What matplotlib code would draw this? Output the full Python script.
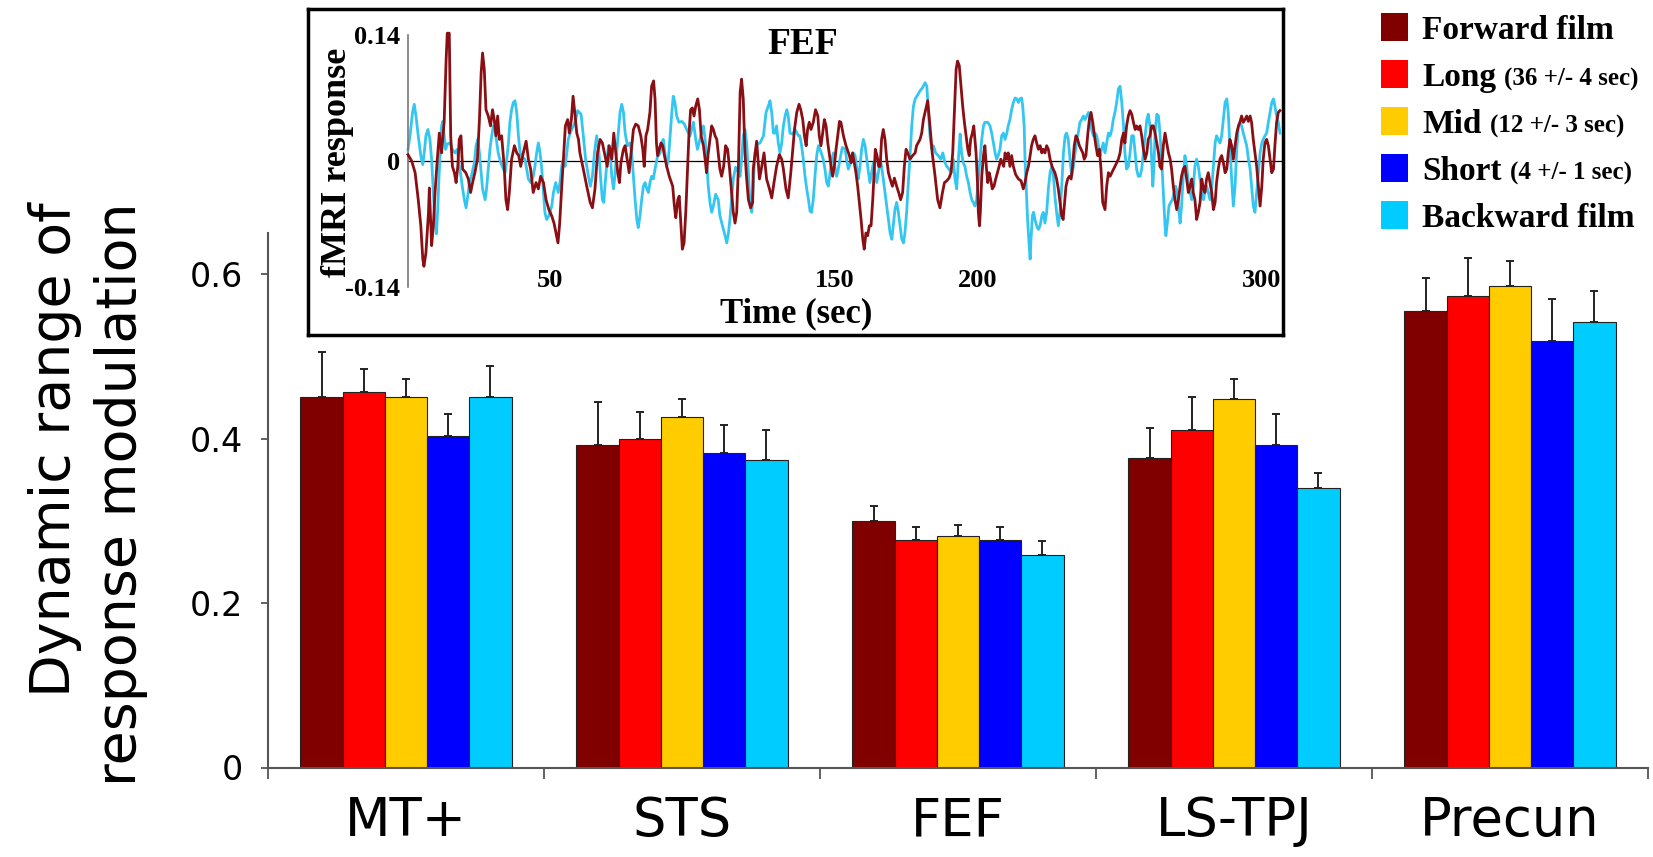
import numpy as np
import matplotlib
matplotlib.use('Agg')
import matplotlib.pyplot as plt
from matplotlib.patches import Rectangle

regions = ['MT+', 'STS', 'FEF', 'LS-TPJ', 'Precun']
conditions = ['Forward film', 'Long', 'Mid', 'Short', 'Backward film']
durations = ['', '(36 +/- 4 sec)', '(12 +/- 3 sec)', '(4 +/- 1 sec)', '']
colors = ['#800000', '#FF0000', '#FFCC00', '#0000FF', '#00CCFF']

# rows = regions, columns = conditions
dyn_range = np.array([
    [0.451, 0.457, 0.451, 0.403, 0.451],
    [0.392, 0.400, 0.426, 0.383, 0.374],
    [0.300, 0.277, 0.282, 0.277, 0.259],
    [0.376, 0.410, 0.448, 0.392, 0.340],
    [0.555, 0.573, 0.585, 0.519, 0.542],
])
sem = np.array([
    [0.054, 0.028, 0.022, 0.027, 0.037],
    [0.053, 0.032, 0.022, 0.034, 0.036],
    [0.018, 0.016, 0.013, 0.016, 0.016],
    [0.037, 0.041, 0.025, 0.038, 0.018],
    [0.040, 0.046, 0.031, 0.051, 0.037],
])

# inset: FEF time courses (time in sec, fMRI response)
fwd_trace = [
    (0.0, 0.007), (1.3, 0.0), (2.5, -0.013), (3.6, -0.043), (4.5, -0.072), (5.2, -0.109), (5.6, -0.117),
    (6.3, -0.102), (7.2, -0.057), (7.5, -0.030), (8.3, -0.094), (8.9, -0.072), (9.5, -0.035), (10.3, 0.002),
    (11.0, 0.031), (11.8, 0.009), (12.7, 0.043), (13.4, 0.113), (13.8, 0.142), (14.5, 0.142), (15.0, 0.028),
    (15.6, -0.006), (16.3, -0.013), (16.9, -0.024), (17.5, -0.006), (18.0, 0.024), (18.6, 0.028), (19.2, -0.009),
    (20.3, -0.013), (21.2, -0.020), (22.0, -0.035), (22.7, -0.024), (23.5, -0.013), (24.4, 0.002), (25.1, 0.046),
    (25.7, 0.098), (26.2, 0.120), (26.8, 0.102), (27.4, 0.057), (28.2, 0.050), (29.0, 0.039), (29.7, 0.057),
    (30.3, 0.046), (30.9, 0.028), (31.5, 0.050), (32.1, 0.024), (32.9, 0.028), (33.8, -0.006), (34.4, -0.043),
    (35.0, -0.054), (35.6, -0.035), (36.4, 0.002), (37.4, 0.017), (38.2, 0.009), (38.9, 0.006), (39.6, -0.006),
    (40.5, 0.009), (41.5, 0.022), (42.3, 0.002), (43.1, -0.009), (44.0, -0.035), (45.0, -0.024), (45.8, -0.031),
    (46.6, -0.017), (47.6, -0.024), (48.5, -0.043), (49.5, -0.054), (50.5, -0.061), (51.3, -0.069), (52.0, -0.080),
    (52.7, -0.091), (53.3, -0.069), (53.9, -0.035), (54.6, 0.002), (55.3, 0.039), (56.1, 0.046), (56.7, 0.031),
    (57.4, 0.046), (58.0, 0.072), (58.6, 0.054), (59.3, 0.031),
    (59.9, 0.024), (60.4, 0.009), (61.6, -0.009), (62.8, -0.028), (64.0, -0.046), (64.8, -0.052), (65.7, -0.031),
    (66.6, 0.009), (67.5, 0.024), (68.3, 0.020), (69.2, 0.006), (70.0, -0.006), (70.7, 0.017), (71.6, 0.002),
    (72.3, 0.031), (73.0, 0.009), (73.7, -0.013), (74.3, -0.024), (74.8, -0.002), (75.7, 0.013), (76.3, 0.017),
    (76.8, 0.006), (77.7, -0.013), (78.4, 0.009), (79.2, 0.035), (80.0, 0.041), (80.9, 0.039), (81.8, 0.028),
    (82.5, 0.013), (83.0, -0.006), (83.6, 0.028), (84.2, 0.035), (85.0, 0.054), (85.6, 0.083), (86.3, 0.089),
    (86.8, 0.069), (87.3, 0.020), (87.7, 0.006), (88.3, 0.013), (88.9, 0.020), (89.5, 0.017), (90.1, 0.006),
    (90.9, -0.006), (91.8, -0.017), (93.0, -0.028), (93.6, -0.050), (94.1, -0.063), (94.8, -0.043), (95.3, -0.039),
    (95.9, -0.072), (96.4, -0.098), (97.0, -0.091), (97.6, -0.057), (98.2, -0.009), (98.7, 0.028), (99.3, 0.057),
    (99.9, 0.059), (100.5, 0.050), (101.1, 0.061), (101.8, 0.069), (102.4, 0.057), (103.0, 0.028), (103.8, 0.017),
    (104.4, 0.002), (104.9, -0.013), (105.5, 0.009), (106.1, 0.024), (106.7, 0.039), (107.3, 0.035), (107.9, 0.028),
    (108.5, 0.024), (109.0, 0.009), (109.6, -0.009), (110.2, -0.017), (110.9, -0.006), (111.6, 0.017), (112.3, 0.013),
    (113.0, -0.009), (113.7, -0.035), (114.3, -0.057), (114.9, -0.069), (115.5, -0.057), (116.1, -0.006),
    (116.7, 0.076), (117.2, 0.091), (117.8, 0.069), (118.4, 0.009), (119.0, -0.020), (119.6, -0.043),
    (120.4, -0.052), (121.1, -0.046),
    (121.3, -0.009), (122.5, 0.022), (123.5, -0.020), (124.3, -0.006), (125.1, 0.009), (126.0, -0.020),
    (127.0, -0.031), (127.8, -0.041), (128.6, -0.024), (129.5, -0.006), (130.5, 0.007), (131.3, 0.002),
    (131.9, -0.009), (132.8, -0.031), (133.6, -0.041), (134.5, -0.013), (135.2, 0.013), (135.8, 0.035),
    (136.6, 0.054), (137.4, 0.063), (138.0, 0.057), (138.7, 0.046), (139.3, 0.028), (139.9, 0.017), (140.4, 0.035),
    (141.0, 0.043), (141.6, 0.035), (142.4, 0.043), (143.2, 0.057), (144.0, 0.050), (144.5, 0.028), (145.1, 0.017),
    (145.7, 0.031), (146.3, 0.046), (146.9, 0.039), (147.5, 0.020), (148.3, 0.002), (149.2, -0.017), (149.8, -0.006),
    (150.4, 0.013), (151.0, 0.028), (151.6, 0.044), (152.1, 0.043), (153.0, 0.028), (153.9, 0.017), (155.1, 0.006),
    (155.7, -0.002), (156.2, 0.009), (156.8, -0.002), (157.4, -0.013), (158.0, -0.028), (158.6, -0.046),
    (159.2, -0.065), (159.8, -0.087), (160.3, -0.098), (160.9, -0.080), (161.5, -0.083), (162.1, -0.072),
    (162.7, -0.072), (163.3, -0.043), (163.9, -0.006), (164.2, 0.013), (164.8, 0.006), (165.4, -0.006),
    (165.9, -0.006), (166.4, 0.024), (167.0, 0.035), (167.6, 0.024), (168.2, 0.002), (168.8, -0.013),
    (169.4, -0.020), (170.2, -0.028), (170.9, -0.019), (171.7, -0.028), (172.4, -0.035), (173.1, -0.043),
    (173.8, -0.035), (174.4, -0.006), (175.0, 0.013), (175.6, 0.009), (176.4, 0.002), (177.3, 0.006), (178.2, 0.009),
    (178.7, 0.017), (179.9, 0.024), (180.5, 0.031), (181.1, 0.046), (181.9, 0.057), (182.6, 0.067),
    (183.4, 0.039), (184.2, 0.009), (185.2, -0.017), (186.1, -0.043), (186.9, -0.052), (187.8, -0.035),
    (188.5, -0.024), (189.3, -0.022), (190.1, -0.019), (190.8, -0.013), (191.4, 0.009), (192.0, 0.057),
    (192.6, 0.102), (193.1, 0.111), (193.7, 0.106), (194.3, 0.083), (194.9, 0.061), (195.5, 0.043), (196.1, 0.028),
    (196.7, 0.013), (197.2, 0.006), (197.7, 0.024), (198.3, 0.031), (198.8, 0.039), (199.2, 0.024), (199.6, 0.009),
    (200.1, -0.024), (200.4, -0.057), (200.8, -0.072), (201.1, -0.057), (201.6, -0.017), (202.2, 0.006),
    (202.7, 0.017), (203.2, -0.006), (203.7, -0.024), (204.2, -0.013), (204.7, -0.020), (205.3, -0.031),
    (205.9, -0.028), (206.5, -0.020), (207.1, -0.013), (207.7, -0.006), (208.3, 0.002), (208.8, -0.002),
    (209.3, -0.006), (209.8, 0.009), (210.4, 0.002), (210.9, 0.009), (211.5, -0.006), (212.1, 0.006),
    (212.7, -0.006), (213.5, -0.015), (214.5, -0.020), (215.4, -0.022), (216.2, -0.031), (216.8, -0.024),
    (217.4, -0.013), (218.0, -0.006), (218.6, 0.006), (219.1, 0.017), (219.7, 0.024), (220.3, 0.028), (220.9, 0.020),
    (221.5, 0.013), (222.1, 0.017), (222.7, 0.009), (223.2, 0.013), (223.8, 0.009), (224.4, 0.017), (225.0, 0.013),
    (225.6, 0.002), (226.4, -0.007), (227.3, -0.013), (227.9, -0.020), (228.5, -0.031), (229.1, -0.046),
    (229.7, -0.061), (230.2, -0.065), (230.6, -0.050), (231.2, -0.028), (231.8, -0.020), (232.4, -0.017),
    (233.0, -0.020), (233.5, -0.006), (234.1, 0.017), (234.7, 0.028), (235.3, 0.024), (235.9, 0.017), (236.5, 0.013),
    (237.1, 0.009), (237.6, 0.002), (238.2, 0.006), (238.8, 0.028), (239.4, 0.046), (240.0, 0.054), (240.6, 0.043),
    (241.2, 0.028), (241.7, 0.017), (242.3, 0.006), (242.9, 0.013), (243.5, -0.009), (244.1, -0.046),
    (244.9, -0.054),
    (245.5, -0.028), (246.1, -0.013), (246.7, -0.017), (247.6, -0.011), (248.4, -0.006), (249.6, 0.002),
    (250.2, 0.009), (250.8, 0.024), (251.4, 0.031), (251.9, 0.020), (252.5, 0.039), (253.1, 0.050), (253.7, 0.056),
    (254.3, 0.052), (254.9, 0.043), (255.5, 0.035), (256.0, 0.039), (256.6, 0.035), (257.2, 0.039), (257.8, 0.028),
    (258.4, 0.013), (259.0, 0.002), (259.6, 0.009), (260.1, 0.024), (260.7, 0.028), (261.3, 0.039), (261.9, 0.039),
    (262.5, 0.031), (263.1, 0.020), (263.7, 0.009), (264.2, -0.006), (264.8, -0.009), (265.4, 0.017), (266.0, 0.031),
    (266.6, 0.020), (267.2, 0.009), (267.8, 0.002), (268.3, -0.009), (268.9, -0.028), (269.5, -0.043),
    (270.1, -0.054), (270.7, -0.043), (271.3, -0.028), (271.8, -0.017), (272.4, -0.009), (273.0, -0.006),
    (273.6, -0.020), (274.2, -0.035), (274.8, -0.028), (275.4, -0.020), (275.9, -0.035), (276.5, -0.043),
    (277.1, -0.065), (277.7, -0.057), (278.3, -0.046), (278.9, -0.020), (279.5, -0.031), (280.0, -0.035),
    (280.6, -0.020), (281.2, -0.013), (281.8, -0.024), (282.4, -0.035), (283.0, -0.054), (283.6, -0.046),
    (284.1, -0.024), (284.7, -0.009), (285.3, 0.002), (285.9, 0.006), (286.5, -0.002), (287.1, -0.013),
    (287.7, -0.009), (288.2, 0.009), (288.8, 0.024), (289.4, 0.017), (290.0, 0.002), (290.6, 0.017), (291.2, 0.031),
    (291.8, 0.039), (292.3, 0.043), (292.9, 0.050), (293.5, 0.043), (294.1, 0.046), (294.7, 0.050), (295.3, 0.044),
    (295.9, 0.050), (296.4, 0.043), (297.0, 0.024), (297.6, 0.009), (298.2, -0.006), (298.8, -0.028),
    (299.4, -0.050), (300.0, -0.028), (300.5, 0.002), (301.1, 0.020), (301.7, 0.024), (302.3, 0.017), (302.9, 0.002),
    (303.5, -0.013), (304.1, -0.009), (304.6, 0.017), (305.2, 0.043), (305.8, 0.054), (306.4, 0.056),
]

bwd_trace = [
    (0.0, 0.013), (0.7, 0.028), (1.6, 0.054), (2.2, 0.063), (2.8, 0.050), (3.6, 0.028), (4.5, 0.006), (5.2, -0.004),
    (5.7, 0.009), (6.3, 0.028), (7.0, 0.035), (7.7, 0.024), (8.3, 0.002), (8.9, -0.035), (9.5, -0.069),
    (10.0, -0.081), (10.4, -0.057), (10.9, -0.017), (11.4, 0.013), (11.8, 0.039), (12.2, 0.044), (12.7, 0.028),
    (13.2, 0.013), (13.8, 0.019), (14.8, 0.020), (15.6, 0.013), (16.5, 0.009), (17.3, 0.013), (17.9, -0.002),
    (18.6, -0.017), (19.2, -0.031), (19.8, -0.043), (20.4, -0.052), (21.0, -0.039), (21.6, -0.024), (22.4, -0.015),
    (23.3, -0.002), (23.9, 0.017), (24.5, 0.024), (25.1, 0.009), (25.7, -0.013), (26.2, -0.031), (27.1, -0.043),
    (27.6, -0.031), (28.2, -0.009), (28.8, 0.013), (29.4, 0.028), (30.0, 0.039), (30.6, 0.035), (31.2, 0.020),
    (31.7, 0.009), (32.6, -0.002), (33.5, -0.009), (34.1, -0.013), (34.7, 0.002), (35.3, 0.020), (35.8, 0.043),
    (36.4, 0.057), (37.0, 0.065), (37.6, 0.067), (38.2, 0.054), (38.8, 0.028), (39.4, 0.009), (40.2, 0.004),
    (41.1, 0.002), (41.7, -0.009), (42.3, -0.020), (43.1, -0.024), (44.0, -0.017), (44.6, -0.006), (45.2, 0.009),
    (45.8, 0.020), (46.4, 0.009), (47.0, -0.009), (47.6, -0.035), (48.1, -0.057), (48.7, -0.065), (49.5, -0.061),
    (50.5, -0.050), (51.1, -0.035), (51.9, -0.024), (52.8, -0.035), (53.4, -0.024), (54.0, -0.006), (54.6, 0.002),
    (55.2, -0.006), (55.8, 0.009), (56.3, 0.024), (57.2, 0.033), (58.1, 0.039), (58.9, 0.045),
    (59.6, 0.056), (60.8, 0.052), (61.6, 0.028), (62.4, 0.002), (63.4, -0.017), (64.1, -0.028), (64.8, -0.017),
    (65.5, 0.009), (66.3, 0.028), (67.1, 0.009), (67.8, -0.024), (68.3, -0.043), (68.8, -0.046), (69.2, -0.028),
    (69.8, -0.006), (70.4, 0.017), (71.0, 0.009), (71.6, -0.017), (72.2, -0.031), (72.7, -0.017), (73.3, 0.009),
    (73.9, 0.031), (74.5, 0.054), (75.1, 0.063), (75.7, 0.054), (76.3, 0.031), (77.1, 0.017), (78.0, 0.020),
    (78.6, 0.009), (79.2, -0.017), (79.8, -0.043), (80.4, -0.065), (80.9, -0.074), (81.5, -0.061), (82.1, -0.043),
    (82.7, -0.028), (83.3, -0.024), (83.9, -0.031), (84.5, -0.035), (85.0, -0.024), (85.6, -0.017), (86.2, -0.020),
    (86.8, -0.009), (87.6, 0.004), (88.6, 0.009), (89.1, 0.020), (89.7, 0.024), (90.3, 0.009), (90.9, -0.006),
    (91.5, 0.002), (92.1, 0.028), (92.7, 0.054), (93.2, 0.072), (93.8, 0.065), (94.4, 0.050), (95.2, 0.043),
    (96.2, 0.044), (97.1, 0.041), (97.9, 0.035), (99.1, 0.028), (100.3, 0.043), (101.1, 0.024), (101.7, 0.013),
    (102.6, 0.024), (103.8, 0.039), (104.4, 0.024), (104.9, 0.002), (105.5, -0.028), (106.1, -0.046),
    (106.7, -0.057), (107.3, -0.050), (108.1, -0.037), (109.0, -0.043), (109.6, -0.061), (110.5, -0.072),
    (111.4, -0.083), (112.0, -0.091), (112.6, -0.080), (113.1, -0.065), (113.7, -0.043), (114.3, -0.020),
    (115.1, -0.007), (116.1, -0.013), (116.7, -0.017), (117.2, 0.002), (117.8, 0.028), (118.4, 0.035),
    (119.0, 0.020), (119.6, -0.013), (120.2, -0.050), (120.8, -0.057), (121.3, -0.028),
    (121.9, 0.009), (122.8, 0.019), (123.7, 0.020), (124.9, 0.028), (125.8, 0.054), (126.6, 0.061), (127.2, 0.067),
    (127.8, 0.054), (128.4, 0.031), (129.0, 0.031), (129.5, 0.039), (130.1, 0.020), (130.7, 0.009), (131.3, 0.020),
    (131.9, 0.039), (132.5, 0.050), (133.1, 0.057), (133.6, 0.050), (134.2, 0.031), (135.2, 0.030), (136.0, 0.035),
    (137.2, 0.028), (137.7, 0.028), (138.3, 0.017), (138.9, 0.002), (139.5, -0.017), (140.1, -0.031),
    (140.7, -0.043), (141.3, -0.056), (141.8, -0.057), (142.4, -0.043), (143.0, -0.017), (143.6, 0.006),
    (144.2, 0.017), (145.0, 0.011), (145.9, 0.002), (146.5, -0.009), (147.1, -0.024), (147.7, -0.028),
    (148.3, -0.013), (148.9, 0.002), (149.5, 0.009), (150.0, -0.006), (150.6, -0.017), (151.2, -0.009),
    (151.8, 0.002), (152.6, 0.015), (153.6, 0.013), (154.1, 0.002), (154.7, -0.009), (155.5, -0.002), (156.5, 0.009),
    (157.1, 0.006), (157.7, -0.009), (158.2, -0.020), (158.8, -0.006), (159.4, 0.013), (160.0, 0.024),
    (160.6, 0.017), (161.2, 0.002), (161.8, -0.013), (162.3, -0.024), (162.9, -0.013), (163.5, -0.002),
    (164.1, -0.013), (164.7, -0.024), (165.3, -0.013), (165.9, 0.002), (166.4, -0.006), (167.0, -0.020),
    (167.6, -0.035), (168.2, -0.050), (168.8, -0.065), (169.4, -0.080), (170.0, -0.087), (170.5, -0.072),
    (171.1, -0.054), (171.7, -0.046), (172.3, -0.057), (172.9, -0.072), (173.5, -0.087), (174.1, -0.091),
    (174.6, -0.080), (175.2, -0.057), (175.8, -0.024), (176.4, 0.006), (177.0, 0.039), (177.6, 0.061),
    (178.2, 0.069), (179.0, 0.073), (179.9, 0.078), (180.7, 0.081), (181.7, 0.087),
    (182.3, 0.083), (182.8, 0.057), (183.4, 0.028), (184.0, 0.013), (184.6, 0.017), (185.4, 0.009), (186.3, 0.006),
    (187.2, 0.002), (187.9, 0.009), (188.7, -0.002), (189.3, -0.006), (190.1, -0.009), (190.8, -0.013),
    (191.6, 0.002), (192.2, -0.020), (192.8, -0.031), (193.4, 0.002), (194.0, 0.030), (194.5, 0.009),
    (195.1, -0.002), (195.7, -0.006), (196.3, -0.017), (196.9, -0.024), (197.5, -0.035), (198.1, -0.043),
    (198.6, -0.046), (199.2, -0.050), (199.8, -0.043), (200.4, -0.020), (201.0, 0.002), (201.6, 0.024),
    (202.2, 0.039), (202.7, 0.043), (203.7, 0.043), (204.5, 0.039), (205.1, 0.031), (205.7, 0.020), (206.3, 0.009),
    (206.8, 0.002), (207.4, 0.006), (208.0, 0.013), (208.6, 0.028), (209.2, 0.031), (209.8, 0.024), (210.4, 0.031),
    (210.9, 0.039), (211.5, 0.046), (212.1, 0.057), (212.7, 0.065), (213.3, 0.070), (213.9, 0.069), (214.5, 0.065),
    (215.0, 0.069), (215.6, 0.070), (216.0, 0.061), (216.5, 0.039), (216.8, 0.002), (217.3, -0.035),
    (217.7, -0.065), (218.2, -0.091), (218.6, -0.109), (218.9, -0.087), (219.4, -0.061), (219.8, -0.057),
    (220.3, -0.065), (220.9, -0.072), (221.5, -0.076), (222.1, -0.072), (222.7, -0.061), (223.2, -0.057),
    (223.8, -0.069), (224.4, -0.057), (225.0, -0.031), (225.6, -0.013), (226.2, -0.006), (226.8, -0.017),
    (227.3, -0.039), (227.9, -0.057), (228.5, -0.072), (229.1, -0.057), (229.7, -0.028), (230.3, 0.009),
    (230.9, 0.028), (231.4, 0.031), (232.0, 0.024), (232.6, 0.002), (233.2, -0.017), (233.8, -0.006),
    (234.4, 0.009), (235.0, 0.024), (235.5, 0.031), (236.1, 0.043), (236.7, 0.046), (237.3, 0.050), (237.9, 0.046),
    (238.5, 0.050), (239.1, 0.054), (239.6, 0.046), (240.2, 0.035), (240.8, 0.028), (241.4, 0.031), (242.0, 0.028),
    (242.6, 0.017), (243.2, 0.006), (243.7, 0.013), (244.3, 0.020),
    (244.9, 0.009), (245.5, 0.020), (246.1, 0.031), (246.7, 0.028), (247.3, 0.035), (247.8, 0.046), (248.4, 0.054),
    (249.0, 0.065), (249.6, 0.080), (250.2, 0.083), (250.8, 0.065), (251.4, 0.039), (251.9, 0.009),
    (252.5, -0.009), (253.1, -0.006), (253.7, 0.009), (254.3, 0.028), (254.9, 0.028), (255.5, 0.009),
    (256.0, -0.009), (256.6, -0.017), (257.2, -0.017), (257.8, -0.009), (258.4, 0.009), (259.0, 0.028),
    (259.6, 0.046), (260.1, 0.052), (260.7, 0.039), (261.3, 0.002), (261.7, -0.028), (262.1, -0.006),
    (262.5, 0.031), (263.1, 0.052), (263.7, 0.050), (264.2, 0.031), (264.8, 0.002), (265.4, -0.035),
    (266.0, -0.072), (266.3, -0.083), (266.8, -0.069), (267.4, -0.050), (268.0, -0.046), (268.6, -0.043),
    (269.2, -0.035), (269.7, -0.028), (270.3, -0.035), (270.9, -0.057), (271.3, -0.069), (271.8, -0.050),
    (272.4, -0.017), (273.0, 0.006), (273.6, -0.006), (274.2, -0.024), (274.8, -0.035), (275.4, -0.043),
    (275.9, -0.031), (276.5, -0.006), (277.1, 0.002), (277.7, -0.006), (278.3, -0.020), (278.9, -0.035),
    (279.5, -0.043), (280.0, -0.035), (280.6, -0.028), (281.2, -0.035), (281.8, -0.043), (282.4, -0.031),
    (283.0, -0.006), (283.6, 0.020), (284.1, 0.028), (284.7, 0.024), (285.3, 0.020), (285.9, 0.028), (286.5, 0.046),
    (287.1, 0.065), (287.7, 0.069), (288.2, 0.054), (288.8, 0.017), (289.4, -0.020), (290.0, -0.050),
    (290.6, -0.028), (291.2, 0.013), (291.8, 0.039), (292.3, 0.043), (292.9, 0.039), (293.5, 0.031), (294.1, 0.024),
    (294.7, 0.017), (295.3, 0.002), (295.9, -0.009), (296.4, -0.028), (297.0, -0.050), (297.6, -0.057),
    (298.2, -0.035), (298.8, -0.013), (299.4, 0.009), (300.0, 0.020), (300.5, 0.024), (301.1, 0.028),
    (301.7, 0.031), (302.3, 0.043), (302.9, 0.054), (303.5, 0.065), (304.1, 0.069), (304.6, 0.061), (305.2, 0.050),
    (305.8, 0.043), (306.4, 0.031),
]

W, H = 1653, 857
serif = 'Liberation Serif'


def px(x0, y0, x1, y1):
    # pixel box (top-left origin) -> figure fraction rect
    return [x0 / W, 1 - y1 / H, (x1 - x0) / W, (y1 - y0) / H]


fig = plt.figure(figsize=(W / 100, H / 100), dpi=100)

# ---- main bar chart
ax = fig.add_axes(px(268, 233, 1648, 767.5))
n_reg = len(regions)
n_cond = len(conditions)
bw = 0.153
x = np.arange(n_reg)
for j in range(n_cond):
    xs = x + (j - (n_cond - 1) / 2) * bw
    ax.bar(xs, dyn_range[:, j], bw, color=colors[j], edgecolor='#222222', linewidth=0.8, zorder=2)
    ax.errorbar(xs, dyn_range[:, j], yerr=[np.zeros(n_reg), sem[:, j]], fmt='none',
                ecolor='#222222', elinewidth=1.4, capsize=3, capthick=1.4, zorder=3)

ax.set_xlim(-0.5, n_reg - 0.5)
ax.set_ylim(0, 0.65)
ax.set_yticks([0, 0.2, 0.4, 0.6])
ax.set_yticklabels(['0', '0.2', '0.4', '0.6'])
ax.set_xticks(np.arange(n_reg + 1) - 0.5)
ax.set_xticklabels([])
ax.set_xticks(x, minor=True)
ax.set_xticklabels(regions, minor=True)
ax.tick_params(axis='x', which='major', direction='out', length=8, width=1.3, color='#555555')
ax.tick_params(axis='x', which='minor', length=0, pad=20, labelsize=38)
ax.tick_params(axis='y', direction='out', length=5, width=1.3, color='#555555', labelsize=24, pad=13)
for s in ['top', 'right']:
    ax.spines[s].set_visible(False)
for s in ['left', 'bottom']:
    ax.spines[s].set_color('#555555')
    ax.spines[s].set_linewidth(1.5)

fig.text(88 / W, 1 - 494 / H, 'Dynamic range of\nresponse modulation', rotation=90,
         ha='center', va='center', multialignment='right', fontsize=40, linespacing=1.3)

# ---- inset frame and time course
box = fig.add_axes(px(308, 9, 1283, 335))
box.set_xticks([])
box.set_yticks([])
for s in box.spines.values():
    s.set_linewidth(2.5)
    s.set_color('black')

t_end = 307
ins = fig.add_axes(px(408, 35, 408 + t_end * 2.846, 287))
ins.patch.set_alpha(0)
fwd = np.array(fwd_trace)
bwd = np.array(bwd_trace)
ins.axhline(0, color='black', lw=0.9, zorder=1)
ins.plot(bwd[:, 0], bwd[:, 1], color='#33C6F0', lw=2.0, clip_on=False, zorder=2)
ins.plot(fwd[:, 0], fwd[:, 1], color='#8A0F14', lw=2.0, clip_on=False, zorder=3)
ins.set_xlim(0, t_end)
ins.set_ylim(-0.14, 0.14)
for s in ['top', 'right', 'bottom']:
    ins.spines[s].set_visible(False)
ins.spines['left'].set_color('#777777')
ins.spines['left'].set_linewidth(1.2)
ins.set_yticks([-0.14, 0, 0.14])
ins.set_yticklabels(['-0.14', '0', '0.14'], fontfamily=serif, fontweight='bold', fontsize=19)
ins.set_xticks([50, 150, 200, 300])
ins.set_xticklabels(['50', '150', '200', '300'], fontfamily=serif, fontweight='bold', fontsize=19)
ins.tick_params(axis='y', length=0, pad=6)
ins.tick_params(axis='x', length=0, pad=-13)

fig.text(803 / W, 1 - 44 / H, 'FEF', ha='center', va='center', fontsize=27,
         fontfamily=serif, fontweight='bold')
fig.text(796 / W, 1 - 314 / H, 'Time (sec)', ha='center', va='center', fontsize=25,
         fontfamily=serif, fontweight='bold')
fig.text(337 / W, 1 - 162 / H, 'fMRI response', ha='center', va='center', rotation=90,
         fontsize=26, fontfamily=serif, fontweight='bold')

# ---- legend (top right)
renderer = fig.canvas.get_renderer()
for i, name in enumerate(conditions):
    yc = 27 + i * 47
    fig.patches.append(Rectangle((1381 / W, 1 - (yc + 14) / H), 27 / W, 28 / H,
                                 transform=fig.transFigure, facecolor=colors[i], edgecolor='none'))
    t1 = fig.text(1422 / W, 1 - (yc + 12) / H, name, ha='left', va='baseline', fontsize=24,
                  fontfamily=serif, fontweight='bold')
    if durations[i]:
        bb = t1.get_window_extent(renderer)
        fig.text((bb.x1 + 8) / W, 1 - (yc + 12) / H, durations[i], ha='left', va='baseline',
                 fontsize=18, fontfamily=serif, fontweight='bold')

fig.savefig('out.png', dpi=100)
